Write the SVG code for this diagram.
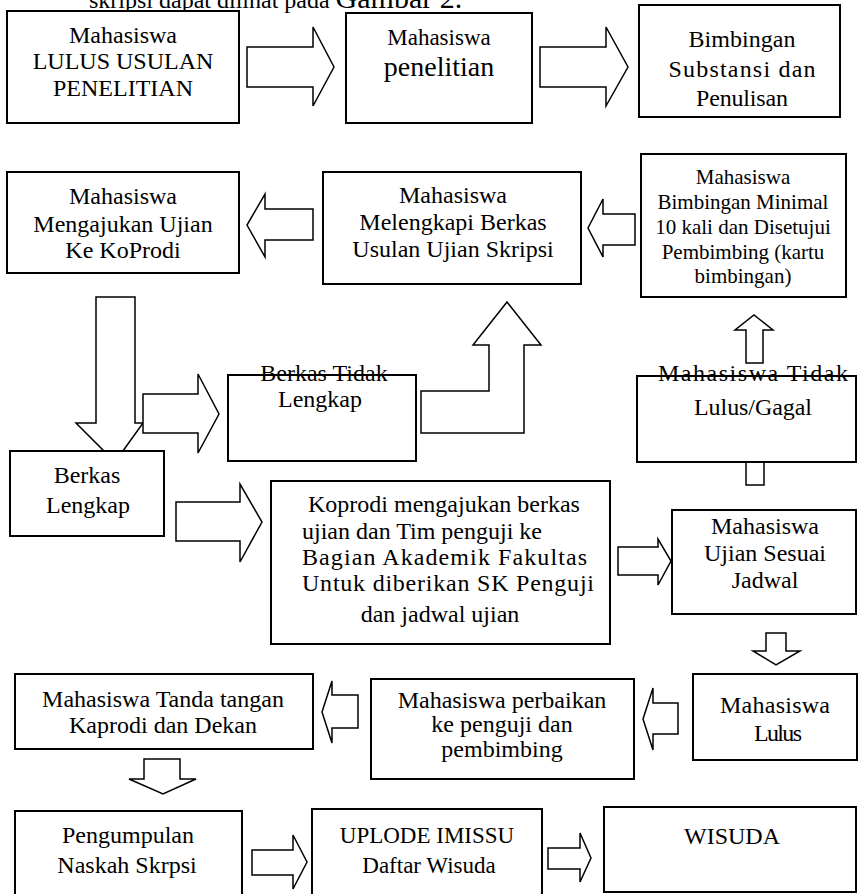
<svg xmlns="http://www.w3.org/2000/svg" width="866" height="894" viewBox="0 0 866 894">
<style>
.box{fill:#fff;stroke:#000;stroke-width:2}
.arr{fill:#fff;stroke:#000;stroke-width:1.5;stroke-linejoin:miter}
text{font-family:"Liberation Serif","Times New Roman",serif;fill:#000;font-size:24px;text-anchor:middle}
.s21{font-size:21px}
.s23{font-size:23px}
.s28{font-size:28px}
.st{text-anchor:start}
</style>
<rect width="866" height="894" fill="#fff"/>
<text class="st" x="89" y="8" font-size="27">skripsi dapat dilihat  pada <tspan font-size="30">Gambar 2.</tspan></text>

<g id="connectors">
<polygon class="arr" points="247,47 313,47 313,27 334,67 313,106 313,87 247,87"/>
<polygon class="arr" points="540,47 606,47 606,27 628,67 606,106 606,87 540,87"/>
<polygon class="arr" points="313,209 265,209 265,194 247,225 265,257 265,240 313,240"/>
<polygon class="arr" points="635,214 603,214 603,199 588,228 603,257 603,245 635,245"/>
<polygon class="arr" points="96,297 135,297 135,423 143,423 115,462 76,423 96,423"/>
<polygon class="arr" points="143,394 198,394 198,374 219,414 198,453 198,433 143,433"/>
<polygon class="arr" points="421,391 489,391 489,345 473,345 507,302 541,345 524,345 524,433 421,433"/>
<polygon class="arr" points="746,363 746,330 735,330 754,315 773,330 763,330 763,363"/>
<polygon class="arr" points="746,485 746,455 739,455 756,445 773,455 764,455 764,485"/>
<polygon class="arr" points="176,502 240,502 240,484 262,522 240,562 240,541 176,541"/>
<polygon class="arr" points="618,547 658,547 658,539 671,561 658,585 658,575 618,575"/>
<polygon class="arr" points="766,633 786,633 786,651 800,651 776,665 753,651 766,651"/>
<polygon class="arr" points="678,703 653,703 653,688 643,719 653,750 653,734 678,734"/>
<polygon class="arr" points="358,695 332,695 332,681 322,712 332,743 332,728 358,728"/>
<polygon class="arr" points="144,759 180,759 180,779 196,779 163,794 129,779 144,779"/>
<polygon class="arr" points="252,850 293,850 293,835 307,862 293,889 293,875 252,875"/>
<polygon class="arr" points="548,848 580,848 580,833 591,858 580,882 580,869 548,869"/>
</g>

<g id="n1"><rect class="box" x="7" y="11" width="232" height="112"/>
<text x="123" y="43">Mahasiswa</text><text x="123" y="69">LULUS USULAN</text><text x="123" y="96">PENELITIAN</text></g>

<g id="n2"><rect class="box" x="346" y="13" width="186" height="110"/>
<text class="s23" x="439" y="45">Mahasiswa</text><text class="s28" x="439" y="76">penelitian</text></g>

<g id="n3"><rect class="box" x="639" y="5" width="201" height="112"/>
<text x="742" y="47" textLength="107">Bimbingan</text><text x="742" y="77" textLength="147">Substansi dan</text><text x="742" y="106" textLength="92">Penulisan</text></g>

<g id="n4"><rect class="box" x="7" y="172" width="232" height="101"/>
<text x="123" y="204">Mahasiswa</text><text x="123" y="232">Mengajukan Ujian</text><text x="123" y="258">Ke KoProdi</text></g>

<g id="n5"><rect class="box" x="323" y="172" width="258" height="112"/>
<text x="453" y="203">Mahasiswa</text><text x="453" y="230">Melengkapi Berkas</text><text x="453" y="257">Usulan Ujian Skripsi</text></g>

<g id="n6"><rect class="box" x="641" y="154" width="205" height="143"/>
<text class="s21" x="743" y="184">Mahasiswa</text><text class="s21" x="743" y="209">Bimbingan Minimal</text><text class="s21" x="743" y="234">10 kali dan Disetujui</text><text class="s21" x="743" y="259">Pembimbing (kartu</text><text class="s21" x="743" y="283">bimbingan)</text></g>

<g id="n7"><rect class="box" x="228" y="375" width="188" height="86"/>
<text x="324" y="381" font-size="23">Berkas Tidak</text><text x="320" y="407">Lengkap</text></g>

<g id="n8"><rect class="box" x="10" y="451" width="154" height="85"/>
<text x="87" y="483">Berkas</text><text x="88" y="513">Lengkap</text></g>

<g id="n9"><rect class="box" x="271" y="481" width="339" height="163"/>
<text class="st" x="308" y="512">Koprodi mengajukan berkas</text>
<text class="st" x="302" y="539">ujian dan Tim penguji ke</text>
<text class="st" x="302" y="565" textLength="285">Bagian Akademik Fakultas</text>
<text class="st" x="302" y="591" textLength="292">Untuk diberikan SK Penguji</text>
<text x="440" y="622">dan jadwal ujian</text></g>

<g id="n10"><rect class="box" x="637" y="376" width="219" height="86"/>
<text x="753" y="381" font-size="26" textLength="190">Mahasiswa Tidak</text><text x="753" y="415" font-size="25" textLength="118">Lulus/Gagal</text></g>

<g id="n11"><rect class="box" x="672" y="510" width="184" height="104"/>
<text x="765" y="534">Mahasiswa</text><text x="765" y="561">Ujian Sesuai</text><text x="765" y="588">Jadwal</text></g>

<g id="n12"><rect class="box" x="15" y="674" width="298" height="75"/>
<text x="163" y="707">Mahasiswa Tanda tangan</text><text x="163" y="733">Kaprodi dan Dekan</text></g>

<g id="n13"><rect class="box" x="371" y="679" width="263" height="100"/>
<text x="502" y="708">Mahasiswa perbaikan</text><text x="502" y="732">ke penguji dan</text><text x="502" y="757">pembimbing</text></g>

<g id="n14"><rect class="box" x="693" y="674" width="164" height="86"/>
<text x="775" y="713" textLength="110">Mahasiswa</text><text x="778" y="741" textLength="48">Lulus</text></g>

<g id="n15"><rect class="box" x="15" y="811" width="227" height="95"/>
<text x="128" y="843">Pengumpulan</text><text x="127" y="873">Naskah Skrpsi</text></g>

<g id="n16"><rect class="box" x="312" y="809" width="230" height="95"/>
<text class="s23" x="427" y="843">UPLODE IMISSU</text><text class="s23" x="429" y="873">Daftar Wisuda</text></g>

<g id="n17"><rect class="box" x="604" y="807" width="252" height="85"/>
<text x="732" y="844" font-size="27">WISUDA</text></g>
</svg>
